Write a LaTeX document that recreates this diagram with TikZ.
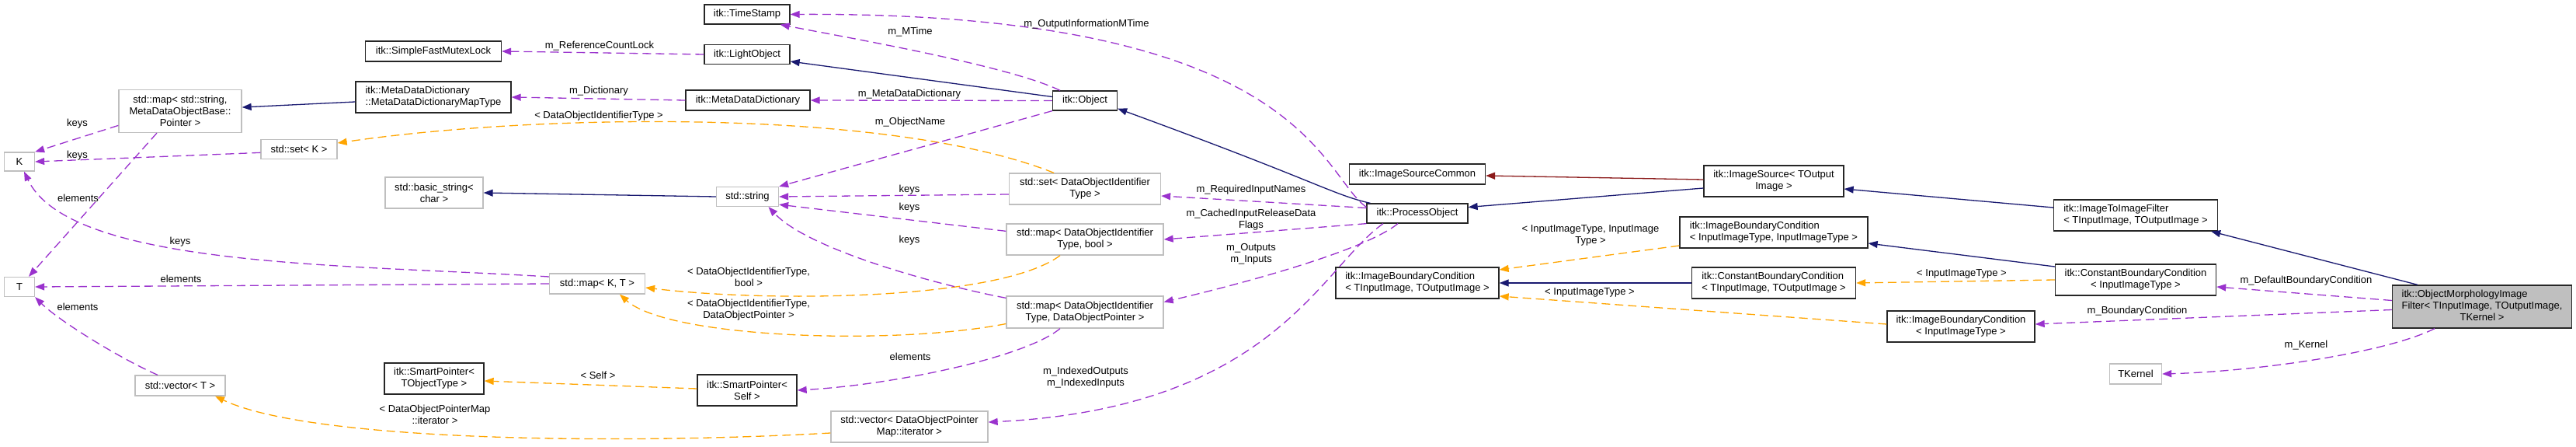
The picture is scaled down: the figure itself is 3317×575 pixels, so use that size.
\documentclass[tikz,border=0pt]{standalone}
\usepackage{fontspec}
\setmainfont{Liberation Sans}
\usetikzlibrary{arrows.meta}
\definecolor{inhblue}{HTML}{191970}
\definecolor{usepurple}{HTML}{9A32CD}
\definecolor{tmplorange}{HTML}{FFA500}
\definecolor{privred}{HTML}{8B1A1A}
\definecolor{boxgray}{HTML}{BFBFBF}
\tikzset{
  cls/.style={draw=black!85,line width=1.3pt,fill=white,inner sep=0pt,
    font=\fontsize{13}{15}\selectfont,align=center},
  ext/.style={cls,draw=boxgray},
  sz/.style 2 args={minimum width=#1pt,minimum height=#2pt},
  lbl/.style={inner sep=0pt,font=\fontsize{13}{15}\selectfont,align=center},
  inhlink/.style={draw=inhblue,line width=1.3pt,-{Triangle[length=12pt,width=9pt]}},
  privlink/.style={inhlink,draw=privred},
  uselink/.style={draw=usepurple,line width=1.3pt,dash pattern=on 11pt off 6pt,
    -{Triangle[length=12pt,width=9pt]}},
  tmpllink/.style={uselink,draw=tmplorange},
}
\begin{document}
\begin{tikzpicture}[x=1pt,y=-1pt]
    \useasboundingbox (0,0) rectangle (3317,575);
    % std containers and template parameters
    \node[ext,sz={39}{24}] (nK) at (25,208) {K};
    \node[ext,sz={39}{25}] (nT) at (25,369) {T};
    \node[ext,sz={158}{55}] (nmapstr) at (232,143) {std::map< std::string,\\MetaDataObjectBase::\\Pointer >};
    \node[ext,sz={98}{25}] (nsetK) at (385,192) {std::set< K >};
    \node[ext,sz={126}{40}] (nbstr) at (559,248) {std::basic\_string<\\char >};
    \node[ext,sz={116}{26}] (nvecT) at (232,496) {std::vector< T >};
    \node[ext,sz={123}{26}] (nmapKT) at (769,365) {std::map< K, T >};
    \node[ext,sz={80}{25}] (nstr) at (962.5,253) {std::string};
    \node[ext,sz={202}{40}] (nveciter) at (1171,549) {std::vector< DataObjectPointer\\Map::iterator >};
    \node[ext,sz={195}{40}] (nsetid) at (1397,243) {std::set< DataObjectIdentifier\\Type >};
    \node[ext,sz={202}{40}] (nmapbool) at (1397,308) {std::map< DataObjectIdentifier\\Type, bool >};
    \node[ext,sz={202}{41}] (nmapptr) at (1397,401.5) {std::map< DataObjectIdentifier\\Type, DataObjectPointer >};
    \node[ext,sz={67}{26}] (nkernel) at (2750,481) {TKernel};
    % itk classes
    \node[cls,sz={175}{26}] (nmutex) at (558,66) {itk::SimpleFastMutexLock};
    \node[cls,sz={200}{40},align=left] (nmdmap) at (558,125) {itk::MetaDataDictionary\\::MetaDataDictionaryMapType};
    \node[cls,sz={128}{40}] (nspobj) at (559,487) {itk::SmartPointer<\\TObjectType >};
    \node[cls,sz={110}{25}] (nstamp) at (962,18.5) {itk::TimeStamp};
    \node[cls,sz={110}{25}] (nlight) at (962,70) {itk::LightObject};
    \node[cls,sz={160}{26}] (nmdd) at (963,129) {itk::MetaDataDictionary};
    \node[cls,sz={128}{40}] (nspself) at (962,502) {itk::SmartPointer<\\Self >};
    \node[cls,sz={83}{25}] (nobj) at (1397,129.5) {itk::Object};
    \node[cls,sz={175}{26}] (nsrccom) at (1825,224) {itk::ImageSourceCommon};
    \node[cls,sz={130}{25}] (nproc) at (1825,274.5) {itk::ProcessObject};
    \node[cls,sz={210}{40},align=left] (nibcTT) at (1825,364) {itk::ImageBoundaryCondition\\< TInputImage, TOutputImage >};
    \node[cls,sz={180}{40}] (nsrc) at (2284,233) {itk::ImageSource< TOutput\\Image >};
    \node[cls,sz={242}{40},align=left] (nibcII) at (2284,299) {itk::ImageBoundaryCondition\\< InputImageType, InputImageType >};
    \node[cls,sz={211}{40},align=left] (ncbcTT) at (2284,364) {itk::ConstantBoundaryCondition\\< TInputImage, TOutputImage >};
    \node[cls,sz={190}{40}] (nibcI) at (2525,420) {itk::ImageBoundaryCondition\\< InputImageType >};
    \node[cls,sz={211}{40},align=left] (nitif) at (2750,277) {itk::ImageToImageFilter\\< TInputImage, TOutputImage >};
    \node[cls,sz={207}{40}] (ncbcI) at (2750,360) {itk::ConstantBoundaryCondition\\< InputImageType >};
    \node[cls,fill=boxgray,sz={231}{55}] (nomf) at (3196,394.5)
        {\begin{tabular}{@{}l@{}}itk::ObjectMorphologyImage\\Filter< TInputImage, TOutputImage,\\\multicolumn{1}{@{}c@{}}{TKernel >}\end{tabular}};
    % inheritance
    \draw[inhlink] ([yshift=-6pt]nmdmap.west) -- ([yshift=5pt]nmapstr.east);
    \draw[inhlink] (nstr.west) -- (nbstr.east);
    \draw[inhlink] ([yshift=5pt]nobj.west) -- ([yshift=-9pt]nlight.east);
    \draw[inhlink] ([xshift=5pt]nproc.north west) .. controls (1715,250) and (1700,235) .. ([yshift=3pt]nobj.south east);
    \draw[privlink] ([yshift=2pt]nsrc.west) -- ([yshift=-2pt]nsrccom.east);
    \draw[inhlink] ([yshift=-9pt]nsrc.west) -- ([yshift=8pt]nproc.east);
    \draw[inhlink] ([yshift=10pt]nitif.west) -- ([yshift=-10pt]nsrc.east);
    \draw[inhlink] (ncbcTT.west) -- (nibcTT.east);
    \draw[inhlink] ([yshift=17pt]ncbcI.west) -- ([yshift=-14pt]nibcII.east);
    \draw[inhlink] ([xshift=-83pt]nomf.north) -- ([xshift=-9pt]nitif.south east);
    % template instances
    \draw[tmpllink] ([xshift=-40pt]nsetid.north) .. controls (1150,140) and (700,145) .. ([yshift=8pt]nsetK.east);
    \draw[tmpllink] ([xshift=-32pt]nmapbool.south) .. controls (1290,385) and (1000,390) .. ([yshift=-5pt]nmapKT.east);
    \draw[tmpllink] ([yshift=-15pt]nmapptr.west) .. controls (1150,445) and (860,435) .. ([xshift=29pt]nmapKT.south);
    \draw[tmpllink] ([yshift=2pt]nspself.west) -- ([yshift=-3pt]nspobj.east);
    \draw[tmpllink] ([yshift=-8pt]nveciter.west) .. controls (800,572) and (400,568) .. ([xshift=45pt]nvecT.south);
    \draw[tmpllink] ([yshift=-17pt]nibcII.west) -- ([yshift=17pt]nibcTT.east);
    \draw[tmpllink] ([yshift=3pt]nibcI.west) -- ([yshift=-17pt]nibcTT.east);
    \draw[tmpllink] (ncbcI.west) -- (ncbcTT.east);
    % members
    \draw[uselink] (nmapstr.193) -- (nK.north east);
    \draw[uselink] (nsetK.185) -- (nK.east);
    \draw[uselink] ([xshift=-30pt]nmapstr.south) -- ([xshift=12pt]nT.north);
    \draw[uselink] ([yshift=9pt]nmapKT.west) .. controls +(-257,-16) and +(59,124) .. ([xshift=6pt]nK.south);
    \draw[uselink] (nmapKT.west) -- (nT.east);
    \draw[uselink] ([xshift=-29pt]nvecT.north) .. controls +(-50,-22) and +(30,30) .. (nT.south east);
    \draw[uselink] (nlight.west) -- (nmutex.east);
    \draw[uselink] (nmdd.west) -- (nmdmap.east);
    \draw[uselink] ([xshift=-32pt]nobj.north) .. controls (1300,85) and (1100,50) .. ([xshift=-13pt]nstamp.south east);
    \draw[uselink] (nobj.west) -- (nmdd.east);
    \draw[uselink] (nobj.south west) -- (nstr.north east);
    \draw[uselink] ([yshift=-7pt]nsetid.west) -- (nstr.east);
    \draw[uselink] ([yshift=-10pt]nmapbool.north west) -- ([yshift=3pt]nstr.south east);
    \draw[uselink] ([yshift=-3pt]nmapptr.north west) .. controls (1200,365) and (1040,320) .. ([xshift=27pt]nstr.south);
    \draw[uselink] ([xshift=-32pt]nmapptr.south) .. controls (1320,460) and (1150,495) .. (nspself.east);
    \draw[uselink] ([yshift=-5pt]nproc.north west) .. controls (1700,225) and (1680,15) .. (nstamp.east);
    \draw[uselink] ([yshift=7pt]nproc.west) -- ([yshift=-9pt]nsetid.east);
    \draw[uselink] (nproc.south west) -- (nmapbool.east);
    \draw[uselink] ([xshift=-25pt]nproc.south) .. controls (1760,320) and (1620,360) .. ([yshift=13pt]nmapptr.east);
    \draw[uselink] ([xshift=-44pt]nproc.south) .. controls (1700,345) and (1640,525) .. ([yshift=6pt]nveciter.east);
    \draw[uselink] ([yshift=8pt]nomf.west) -- ([yshift=-9pt]ncbcI.east);
    \draw[uselink] ([yshift=-4pt]nomf.west) -- ([yshift=3pt]nibcI.east);
    \draw[uselink] ([xshift=-61pt]nomf.south) .. controls (3070,455) and (2900,478) .. (nkernel.east);
    % edge labels
    \node[lbl] (lkeysA) at (99.5,159) {keys};
    \node[lbl] (lkeysB) at (99.5,200) {keys};
    \node[lbl] (lelemA) at (100.5,255) {elements};
    \node[lbl] (lkeysC) at (232,311) {keys};
    \node[lbl] (lelemB) at (233,359) {elements};
    \node[lbl] (lelemC) at (100,395) {elements};
    \node[lbl] (lrefcnt) at (772,59) {m\_ReferenceCountLock};
    \node[lbl] (ldict) at (771,117) {m\_Dictionary};
    \node[lbl] (ldoit) at (771,149) {< DataObjectIdentifierType >};
    \node[lbl] (lmtime) at (1172,41) {m\_MTime};
    \node[lbl] (lmdd) at (1171,121) {m\_MetaDataDictionary};
    \node[lbl] (lname) at (1172,157) {m\_ObjectName};
    \node[lbl] (lkeysD) at (1171,244) {keys};
    \node[lbl] (lkeysE) at (1171,267) {keys};
    \node[lbl] (lkeysF) at (1171,309) {keys};
    \node[lbl] (ldoitbool) at (964,356) {< DataObjectIdentifierType,\\bool >};
    \node[lbl] (ldoitptr) at (964,399) {< DataObjectIdentifierType,\\DataObjectPointer >};
    \node[lbl] (lself) at (770,483) {< Self >};
    \node[lbl] (lelemD) at (1172,459) {elements};
    \node[lbl] (liter) at (560,533) {< DataObjectPointerMap\\::iterator >};
    \node[lbl] (loutmtime) at (1399,31) {m\_OutputInformationMTime};
    \node[lbl] (lreqin) at (1611,244) {m\_RequiredInputNames};
    \node[lbl] (lcached) at (1611,283) {m\_CachedInputReleaseData\\Flags};
    \node[lbl] (linout) at (1611,327) {m\_Outputs\\m\_Inputs};
    \node[lbl] (lindexed) at (1398,486) {m\_IndexedOutputs\\m\_IndexedInputs};
    \node[lbl] (liitii) at (2048,303) {< InputImageType, InputImage\\Type >};
    \node[lbl] (liitA) at (2047,376) {< InputImageType >};
    \node[lbl] (liitB) at (2526,352) {< InputImageType >};
    \node[lbl] (ldefbc) at (2969.5,361) {m\_DefaultBoundaryCondition};
    \node[lbl] (lbc) at (2752,400) {m\_BoundaryCondition};
    \node[lbl] (lkernel) at (2969.5,444) {m\_Kernel};
\end{tikzpicture}
\end{document}
